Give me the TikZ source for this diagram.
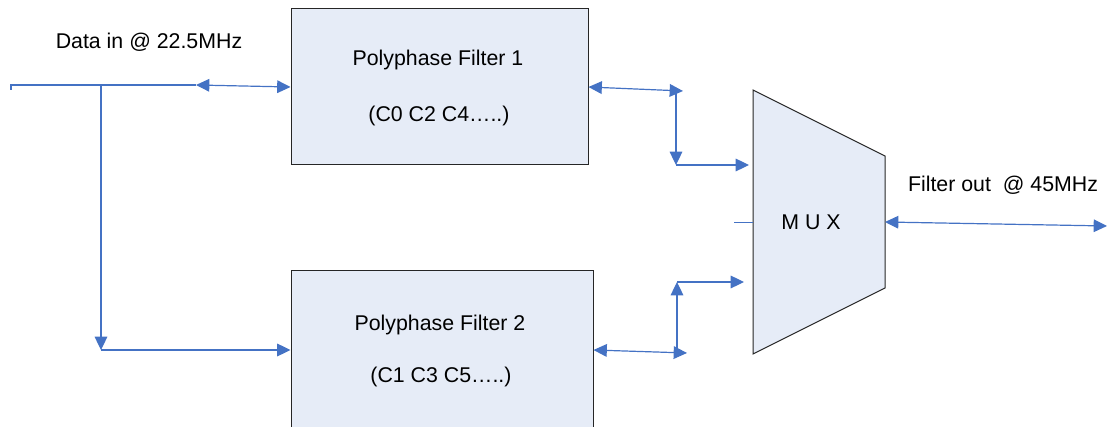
\documentclass[tikz,border=0pt]{standalone}
\usepackage{fontspec}
\setmainfont{Liberation Sans}
\usetikzlibrary{arrows.meta,calc}
\definecolor{wirecol}{HTML}{4472C4}
\definecolor{boxfill}{HTML}{E6ECF7}
\definecolor{boxline}{HTML}{262626}

\begin{document}
\begin{tikzpicture}[x=0.75pt,y=-0.75pt,
  wire/.style={draw=wirecol, line width=0.9pt},
  fwd/.style={-{Triangle[length=10pt,width=9.5pt]}},
  both/.style={{Triangle[length=10pt,width=9.5pt]}-{Triangle[length=10pt,width=9.5pt]}},
  blockbox/.style={draw=boxline, fill=boxfill, line width=0.75pt, inner sep=0pt},
  lbl/.style={font=\fontsize{16}{19}\selectfont, inner sep=0pt, text=black}
]
\useasboundingbox (0,0) rectangle (1108,427);
\clip (0,0) rectangle (1108,427);

% filter blocks
\node[blockbox, minimum width=222.75pt, minimum height=117pt] (f1) at (439.5,87) {};
\node[blockbox, minimum width=226.5pt, minimum height=141.75pt] (f2) at (442,365.5) {};
\node[lbl] (f1a) at (438,60) {Polyphase Filter 1};
\node[lbl] (f1b) at (439,116) {(C0 C2 C4…..)};
\node[lbl] (f2a) at (440,325) {Polyphase Filter 2};
\node[lbl] (f2b) at (441,377) {(C1 C3 C5…..)};

% multiplexer
\draw[draw=boxline, fill=boxfill, line width=0.75pt]
  (753,90) -- (885,156) -- (885,288) -- (753,354) -- cycle;
\node[lbl] (muxl) at (811,222) {M U X};
\coordinate (mi1) at (749,165);
\coordinate (mi2) at (744,282);
\coordinate (mo) at (885,222);
\coordinate (ms) at (734,222);
\draw[wire, line width=0.6pt] (ms) -- (753,222);

% labels
\node[lbl] (din) at (149,42) {Data in @ 22.5MHz};
\node[lbl] (dout) at (1003,185) {Filter out\ \ @ 45MHz};

% input distribution
\coordinate (in) at (11,85);
\coordinate (b1) at (101,85);
\coordinate (p1) at (196,85);
\coordinate (b2) at (101,350);
\draw[wire] ($(in)+(0,5)$) -- (in) -- (p1);
\draw[wire, both] (p1) -- (f1.west);
\draw[wire, fwd] (b1) -- (b2);
\draw[wire, fwd] (b2) -- (b2 -| f2.west);

% filter 1 to multiplexer
\coordinate (q1) at (683,91);
\coordinate (c1) at (676,91);
\coordinate (d1) at (676,165);
\draw[wire, both] (f1.east) -- (q1);
\draw[wire, fwd] (c1) -- (d1);
\draw[wire, fwd] (d1) -- (mi1);

% filter 2 to multiplexer
\coordinate (q2) at (687,353);
\coordinate (c2) at (677,353);
\coordinate (d2) at (677,282);
\draw[wire, both] (f2.east |- b2) -- (q2);
\draw[wire, fwd] (c2) -- (d2);
\draw[wire, fwd] (d2) -- (mi2);

% output
\coordinate (out) at (1107,226);
\draw[wire, both] (mo) -- (out);
\end{tikzpicture}
\end{document}
